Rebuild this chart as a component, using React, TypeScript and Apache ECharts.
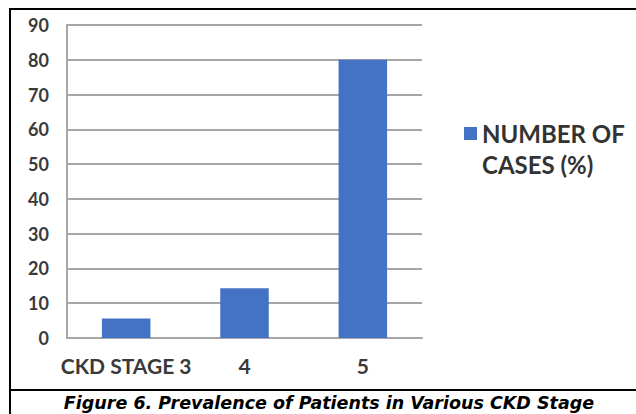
import React, { useEffect, useRef } from "react";
import * as echarts from "echarts";

const categories = ["CKD STAGE 3", "4", "5"];
const seriesName = "NUMBER OF CASES (%)";
const values = [5.6, 14.3, 80];
const yTicks = { min: 0, max: 90, interval: 10 };
const caption = "Figure 6. Prevalence of Patients in Various CKD Stage";

export default function App() {
  const ref = useRef<HTMLDivElement>(null);
  useEffect(() => {
    if (!ref.current) return;
    const chart = echarts.init(ref.current, null, { renderer: "svg" });
    chart.setOption({
      animation: false,
      backgroundColor: "#ffffff",
      grid: { left: 67, right: 214, top: 25, bottom: 76 },
      xAxis: {
        type: "category",
        data: categories,
        axisLine: { lineStyle: { color: "#a6a6a6", width: 2 } },
        axisTick: { show: false },
        axisLabel: {
          interval: 0,
          color: "#3a3a3a",
          fontFamily: "Lato",
          fontWeight: "bold",
          fontSize: 21,
          margin: 17,
        },
      },
      yAxis: {
        type: "value",
        min: yTicks.min,
        max: yTicks.max,
        interval: yTicks.interval,
        axisLine: { show: true, lineStyle: { color: "#a6a6a6", width: 2 } },
        axisTick: { show: false },
        splitLine: { lineStyle: { color: "#a6a6a6", width: 2 } },
        axisLabel: {
          color: "#3a3a3a",
          fontFamily: "Lato",
          fontWeight: "bold",
          fontSize: 18,
          margin: 18,
        },
      },
      legend: {
        orient: "vertical",
        left: 459,
        top: 113,
        itemWidth: 13,
        itemHeight: 44,
        icon: "path://M0,0L13,0L13,13L0,13Z M0,44L0.01,44L0.01,43.99Z",
        itemGap: 0,
        formatter: () => "NUMBER OF\nCASES (%)",
        textStyle: {
          color: "#333333",
          fontFamily: "Lato",
          fontWeight: "bold",
          fontSize: 24,
          lineHeight: 31,
          padding: [0, 0, 0, 0],
        },
        data: [seriesName],
      },
      series: [
        {
          name: seriesName,
          type: "bar",
          data: values,
          barCategoryGap: "59%",
          itemStyle: { color: "#4472c4" },
        },
      ],
      graphic: [
        { type: "line", shape: { x1: 10, y1: 8, x2: 10, y2: 414 }, style: { stroke: "#000", lineWidth: 2 } },
        { type: "line", shape: { x1: 9, y1: 9, x2: 636, y2: 9 }, style: { stroke: "#000", lineWidth: 2 } },
        { type: "line", shape: { x1: 9, y1: 390, x2: 636, y2: 390 }, style: { stroke: "#000", lineWidth: 2 } },
        {
          type: "text",
          x: 329,
          y: 403,
          style: {
            text: caption,
            fill: "#000",
            font: "italic bold 17.5px 'DejaVu Sans'",
            align: "center",
            verticalAlign: "middle",
          },
        },
      ],
    });
    return () => chart.dispose();
  }, []);
  return (
    <div style={{ position: "absolute", left: 0, top: 0, width: 636, height: 414, background: "#fff" }}>
      <div ref={ref} style={{ width: 636, height: 414 }} />
    </div>
  );
}
